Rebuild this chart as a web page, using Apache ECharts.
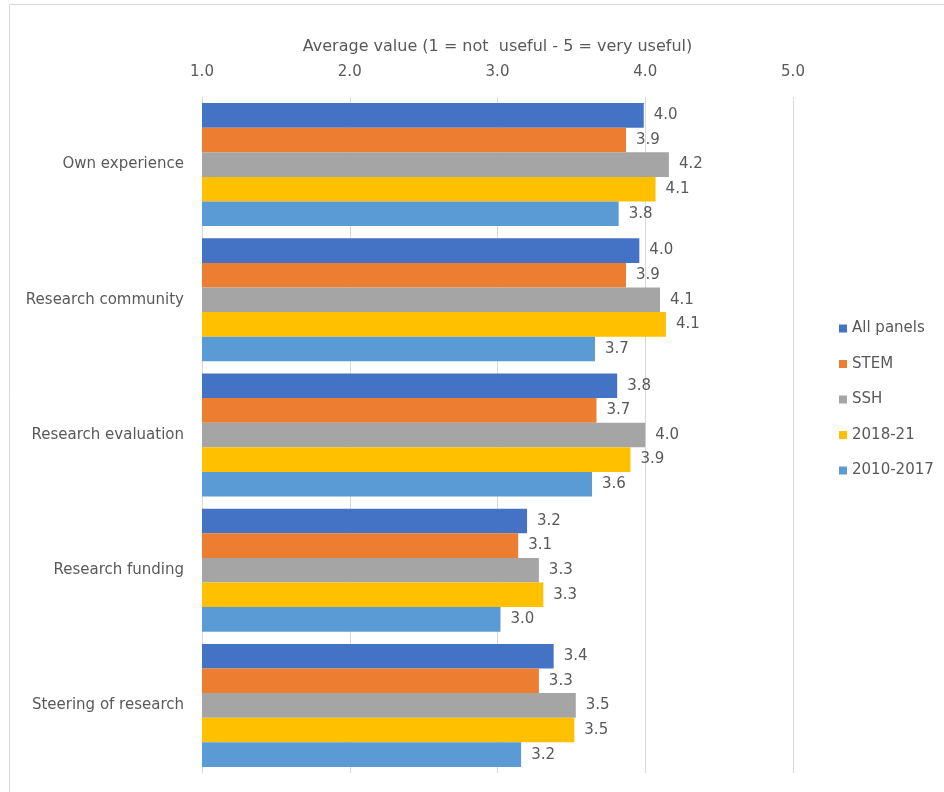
<!DOCTYPE html>
<html>
<head>
<meta charset="utf-8">
<title>Usefulness by source</title>
<script src="https://cdn.jsdelivr.net/npm/echarts@6/dist/echarts.min.js"></script>
<style>
  html, body { margin: 0; padding: 0; background: #fff; }
  #chart { width: 944px; height: 792px; }
</style>
</head>
<body>
<div id="chart"></div>
<script>
// categories, top to bottom
const categories = ['Own experience', 'Research community', 'Research evaluation', 'Research funding', 'Steering of research']

// values (one entry per category)
const allPanels = [3.99, 3.96, 3.81, 3.20, 3.38]
const stem = [3.87, 3.87, 3.67, 3.14, 3.28]
const ssh = [4.16, 4.10, 4.00, 3.28, 3.53]
const period2018 = [4.07, 4.14, 3.90, 3.31, 3.52]
const period2010 = [3.82, 3.66, 3.64, 3.02, 3.16]

const seriesNames = ['All panels', 'STEM', 'SSH', '2018-21', '2010-2017']
const seriesColors = ['#4472C4', '#ED7D31', '#A5A5A5', '#FFC000', '#5B9BD5']

const fontFamily = '"DejaVu Sans", "Liberation Sans", sans-serif'
const textColor = '#595959'

const chart = echarts.init(document.getElementById('chart'))

// build one bar series per group
const makeSeries = (name, data, color) => ({
  name,
  type: 'bar',
  data,
  itemStyle: { color },
  barGap: '0%',
  barCategoryGap: '9%',
  label: {
    show: true,
    position: 'right',
    distance: 10,
    color: textColor,
    fontSize: 15,
    fontFamily,
    formatter: (p) => p.value.toFixed(1),
  },
})

const option = {
  backgroundColor: '#fff',
  animation: false,
  grid: {
    left: 202,
    right: 151,
    top: 97,
    bottom: 19,
  },
  legend: {
    orient: 'vertical',
    left: 834,
    top: 316,
    itemWidth: 8,
    itemHeight: 8,
    itemGap: 20.5,
    icon: 'rect',
    data: seriesNames,
    textStyle: { color: textColor, fontSize: 15, fontFamily },
  },
  xAxis: {
    type: 'value',
    position: 'top',
    min: 1,
    max: 5,
    interval: 1,
    name: 'Average value (1 = not  useful - 5 = very useful)',
    nameLocation: 'middle',
    nameGap: 42,
    nameTextStyle: { color: textColor, fontSize: 16, fontFamily },
    axisLine: { show: false },
    axisTick: { show: false },
    axisLabel: {
      color: textColor,
      fontSize: 15,
      fontFamily,
      margin: 17,
      formatter: (v) => v.toFixed(1),
    },
    splitLine: { lineStyle: { color: '#d9d9d9', width: 1 } },
  },
  yAxis: {
    type: 'category',
    data: categories,
    inverse: true,
    axisLine: { lineStyle: { color: '#d9d9d9', width: 1 } },
    axisTick: { show: false },
    axisLabel: {
      color: textColor,
      fontSize: 15,
      fontFamily,
      margin: 18,
    },
  },
  graphic: [
    {
      type: 'rect',
      shape: { x: 9.5, y: 4.5, width: 945, height: 800 },
      style: { fill: 'none', stroke: '#d9d9d9', lineWidth: 1 },
      silent: true,
    },
  ],
  series: [
    makeSeries(seriesNames[0], allPanels, seriesColors[0]),
    makeSeries(seriesNames[1], stem, seriesColors[1]),
    makeSeries(seriesNames[2], ssh, seriesColors[2]),
    makeSeries(seriesNames[3], period2018, seriesColors[3]),
    makeSeries(seriesNames[4], period2010, seriesColors[4]),
  ],
}

chart.setOption(option)
</script>
</body>
</html>
